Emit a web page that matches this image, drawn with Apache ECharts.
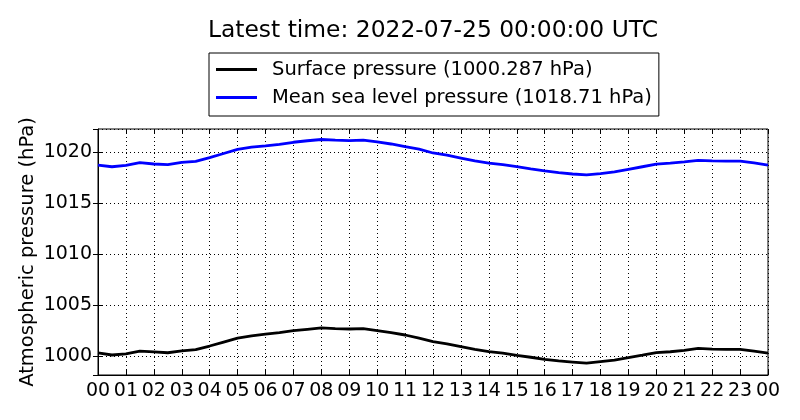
<!DOCTYPE html>
<html><head><meta charset="utf-8">
<script src="https://cdn.jsdelivr.net/npm/echarts@6/dist/echarts.min.js"></script>
<style>html,body{margin:0;padding:0;background:#fff}#c{width:800px;height:420px}</style>
</head><body><div id="c"></div>
<script>
const titleText = "Latest time: 2022-07-25 00:00:00 UTC";
const surfaceName = "Surface pressure (1000.287 hPa)";
const mslName = "Mean sea level pressure (1018.71 hPa)";
const yAxisName = "Atmospheric pressure (hPa)";
// hours since 00:00 UTC, half-hour steps
const hours = [0,0.5,1,1.5,2,2.5,3,3.5,4,4.5,5,5.5,6,6.5,7,7.5,8,8.5,9,9.5,10,10.5,11,11.5,12,12.5,13,13.5,14,14.5,15,15.5,16,16.5,17,17.5,18,18.5,19,19.5,20,20.5,21,21.5,22,22.5,23,23.5,24];
const mslValues = [1018.70,1018.55,1018.68,1018.95,1018.82,1018.75,1018.98,1019.08,1019.45,1019.85,1020.25,1020.48,1020.60,1020.75,1020.95,1021.10,1021.22,1021.15,1021.12,1021.15,1020.98,1020.78,1020.52,1020.28,1019.90,1019.68,1019.40,1019.12,1018.90,1018.75,1018.56,1018.35,1018.15,1017.98,1017.84,1017.75,1017.88,1018.05,1018.30,1018.55,1018.80,1018.90,1019.02,1019.18,1019.12,1019.10,1019.10,1018.92,1018.71];
const surfaceValues = [1000.30,1000.10,1000.22,1000.48,1000.40,1000.32,1000.50,1000.62,1000.98,1001.37,1001.76,1001.98,1002.15,1002.30,1002.48,1002.62,1002.75,1002.68,1002.65,1002.68,1002.50,1002.30,1002.06,1001.75,1001.42,1001.20,1000.92,1000.65,1000.43,1000.28,1000.07,999.88,999.67,999.52,999.41,999.30,999.45,999.60,999.84,1000.08,1000.33,1000.42,1000.55,1000.75,1000.67,1000.65,1000.65,1000.48,1000.29];
const yMin = 998.14, yMax = 1022.25;

const font = "DejaVu Sans";
const chart = echarts.init(document.getElementById('c'), null, {renderer:'canvas'});
const tickStyle = {show:true, inside:true, length:5, lineStyle:{color:'#000', width:1}};
const gridLine = {show:true, lineStyle:{color:'#000', type:[1,3], width:1}};
chart.setOption({
  backgroundColor:'#fff',
  animation:false,
  title:{text:titleText, left:433, textAlign:'center', top:19, padding:0, textStyle:{fontFamily:font, fontSize:23.4, fontWeight:'normal', color:'#000'}},
  legend:{orient:'vertical', left:209, top:53, borderColor:'#000', borderWidth:1, borderRadius:0,
    padding:[6,7,8,7], itemGap:7, itemWidth:41, itemHeight:3, icon:'rect',
    textStyle:{fontFamily:font, fontSize:19.5, color:'#000', padding:[0,0,0,10], lineHeight:21},
    data:[surfaceName, mslName]},
  grid:{left:98, right:32, top:129, bottom:45, show:true, borderColor:'#000', borderWidth:1, backgroundColor:'transparent'},
  xAxis:[{type:'value', min:0, max:24, interval:1, position:'bottom',
    axisLine:{show:true, lineStyle:{color:'#000'}}, axisTick:tickStyle, splitLine:gridLine,
    axisLabel:{color:'#000', fontFamily:font, fontSize:19, margin:7, formatter:v=>String(v%24).padStart(2,'0')}},
    {type:'value', min:0, max:24, interval:1, position:'top', axisLine:{show:false}, axisTick:tickStyle, axisLabel:{show:false}, splitLine:{show:false}}],
  yAxis:[{type:'value', min:yMin, max:yMax, splitNumber:5, position:'left',
    name:yAxisName, nameLocation:'middle', nameGap:60, nameMoveOverlap:false, nameTextStyle:{fontFamily:font, fontSize:19.5, color:'#000'},
    axisLine:{show:true, lineStyle:{color:'#000'}}, axisTick:tickStyle, splitLine:gridLine,
    axisLabel:{color:'#000', fontFamily:font, fontSize:19, margin:6, showMinLabel:false, showMaxLabel:false, formatter:v=>String(Math.round(v))}},
    {type:'value', min:yMin, max:yMax, splitNumber:5, position:'right', axisLine:{show:false}, axisTick:tickStyle, axisLabel:{show:false}, splitLine:{show:false}}],
  series:[
    {name:surfaceName, type:'line', data:hours.map((h,i)=>[h, surfaceValues[i]]), showSymbol:false, smooth:false,
      lineStyle:{color:'#000', width:2.8}, itemStyle:{color:'#000'}},
    {name:mslName, type:'line', data:hours.map((h,i)=>[h, mslValues[i]]), showSymbol:false, smooth:false,
      lineStyle:{color:'#0000ff', width:2.8}, itemStyle:{color:'#0000ff'}}
  ]
});
</script></body></html>
